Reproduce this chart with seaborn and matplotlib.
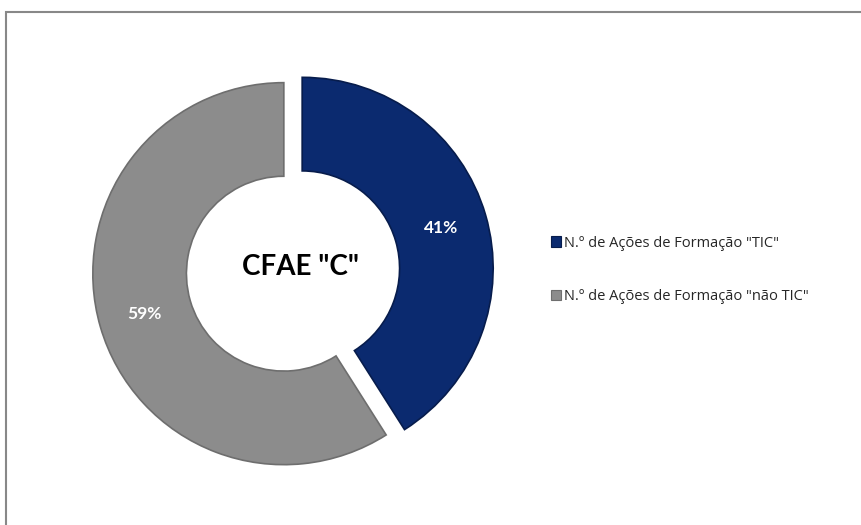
import matplotlib
matplotlib.use("Agg")
import matplotlib.pyplot as plt
import matplotlib.patches as mpatches
import seaborn as sns

# ── Data ─────────────────────────────────────────────────────────────────────
CATEGORIES = ['N.º de Ações de Formação "TIC"', 'N.º de Ações de Formação "não TIC"']
SHARES = [41, 59]
COLORS = ["#0b2a6f", "#8c8c8c"]
EDGE_COLORS = ["#071c4c", "#6e6e6e"]
CENTER_LABEL = 'CFAE "C"'

sns.set_theme(style="white")
plt.rcParams["font.family"] = ["Lato", "DejaVu Sans"]

W, H = 862, 525
fig = plt.figure(figsize=(W / 100, H / 100), dpi=100)
fig.patch.set_facecolor("white")

# pie axes: centre ~(293, 271) px, radius ~191 px
r_px = 191
half = 1.2 * r_px
cx, cy = 293, H - 271
ax = fig.add_axes([(cx - half) / W, (cy - half) / H, 2 * half / W, 2 * half / H])

wedges, texts, autotexts = ax.pie(
    SHARES,
    colors=COLORS,
    startangle=90,
    counterclock=False,
    explode=[0.05, 0.05],
    autopct=lambda p: f"{p:.0f}%",
    pctdistance=0.76,
    wedgeprops=dict(width=0.49, linewidth=1.2),
    textprops=dict(color="white", fontsize=12.5, fontweight="bold"),
)
for w, ec in zip(wedges, EDGE_COLORS):
    w.set_edgecolor(ec)

ax.text(0.04, 0.02, CENTER_LABEL, ha="center", va="center",
        fontsize=20, fontweight="bold", color="black")
ax.set_xlim(-1.2, 1.2)
ax.set_ylim(-1.2, 1.2)
ax.set_aspect("equal")
ax.axis("off")

# legend on the right
handles = [mpatches.Patch(facecolor=c, edgecolor=ec, linewidth=0.8)
           for c, ec in zip(COLORS, EDGE_COLORS)]
fig.legend(handles, CATEGORIES, loc="center left",
           bbox_to_anchor=(538 / W, 1 - 270 / H),
           frameon=False, handlelength=0.7, handleheight=0.7,
           handletextpad=0.2, labelspacing=2.65,
           prop={"family": ["Open Sans", "DejaVu Sans"], "size": 10.5})

# chart frame
frame = mpatches.Rectangle((6 / W, -0.05), 1.1, 1 - 12 / H + 0.05,
                           transform=fig.transFigure, fill=False,
                           edgecolor="#888888", linewidth=1.5)
fig.patches.append(frame)

fig.savefig("out.png", dpi=100)
